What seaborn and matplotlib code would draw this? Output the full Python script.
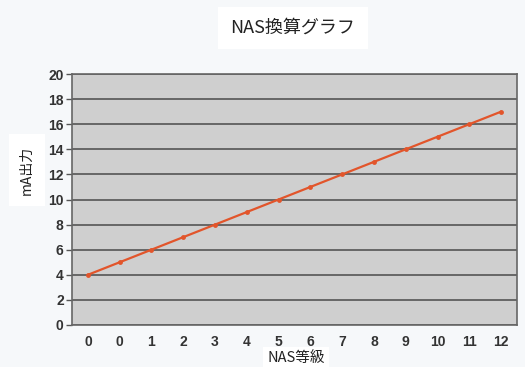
import matplotlib
matplotlib.use("Agg")
import matplotlib.pyplot as plt
import seaborn as sns
import pandas as pd
import numpy as np

# NAS grade labels along the x axis and the corresponding mA output
nas_labels = ["0", "0", "1", "2", "3", "4", "5", "6", "7", "8", "9", "10", "11", "12"]
ma_output = [4, 5, 6, 7, 8, 9, 10, 11, 12, 13, 14, 15, 16, 17]
y_ticks = [0, 2, 4, 6, 8, 10, 12, 14, 16, 18, 20]

sns.set_theme(style="white")
plt.rcParams["font.family"] = ["Noto Sans CJK JP", "DejaVu Sans"]

df = pd.DataFrame({"pos": np.arange(len(nas_labels)), "mA": ma_output})

fig = plt.figure(figsize=(5.25, 3.67), dpi=100, facecolor="#f6f8fa")
ax = fig.add_axes([72 / 525, 1 - 325 / 367, 445 / 525, 251 / 367])
ax.set_facecolor("#cfcfcf")

sns.lineplot(data=df, x="pos", y="mA", ax=ax, color="#e2552b", linewidth=1.6,
             marker="o", markersize=3.5, markeredgewidth=0, zorder=3)

ax.set_xlim(-0.5, len(nas_labels) - 0.5)
ax.set_ylim(0, 20)
ax.set_yticks(y_ticks)
ax.set_yticklabels([str(v) for v in y_ticks])
ax.set_xticks(df["pos"])
ax.set_xticklabels(nas_labels)
# tick marks sit on the category boundaries
ax.set_xticks(np.arange(-0.5, len(nas_labels)), minor=True)
ax.tick_params(axis="x", which="major", length=0, pad=7)
ax.tick_params(axis="x", which="minor", length=3, width=1, color="#555555", direction="out")
ax.tick_params(axis="y", length=4, width=1, color="#555555", direction="out", pad=2)
ax.tick_params(bottom=True, left=True)

for lbl in ax.get_xticklabels() + ax.get_yticklabels():
    lbl.set_fontfamily(["Liberation Sans", "DejaVu Sans"])
    lbl.set_fontweight("bold")
    lbl.set_fontsize(10)
    lbl.set_color("#333333")

ax.yaxis.grid(True, color="#555555", linewidth=1.2)
ax.set_axisbelow(True)
for side, sp in ax.spines.items():
    sp.set_visible(True)
    sp.set_color("#666666")
    sp.set_linewidth(1.2)

ax.set_xlabel("")
ax.set_ylabel("")

fig.text(293 / 525, 1 - 28 / 367, "NAS換算グラフ", ha="center", va="center", fontsize=13,
         color="#222222", bbox=dict(facecolor="white", edgecolor="none", pad=9))
fig.text(296 / 525, 1 - 358 / 367, "NAS等級", ha="center", va="center", fontsize=10.5,
         color="#222222", bbox=dict(facecolor="white", edgecolor="none", pad=3))
fig.text(27 / 525, 1 - 170 / 367, "mA出力", ha="center", va="center", fontsize=10,
         rotation=90, color="#222222", bbox=dict(facecolor="white", edgecolor="none", pad=8))

fig.savefig("out.png", dpi=100, facecolor=fig.get_facecolor())
